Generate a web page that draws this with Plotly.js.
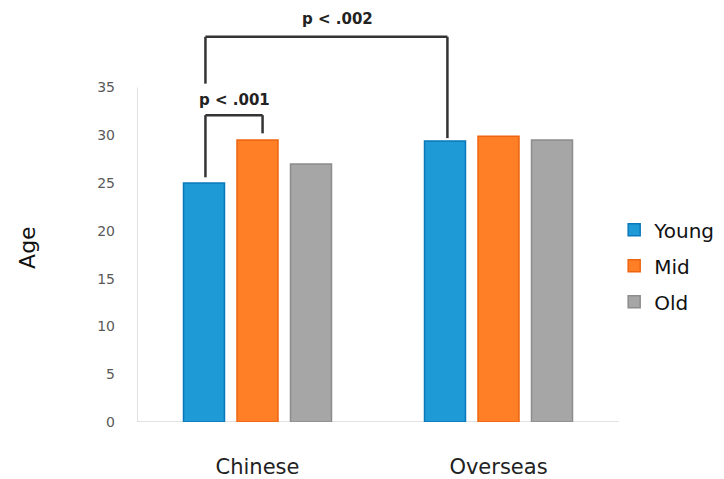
<!DOCTYPE html>
<html>
<head>
<meta charset="utf-8">
<script src="https://cdn.plot.ly/plotly-3.0.1.min.js"></script>
<style>html,body{margin:0;padding:0;background:#fff;}#chart{width:724px;height:479px;}</style>
</head>
<body>
<div id="chart"></div>
<script>
// ---- data ----
const categories = ["Chinese", "Overseas"];
const seriesNames = ["Young", "Mid", "Old"];
const youngValues = [25.0, 29.4];
const midValues = [29.5, 29.9];
const oldValues = [27.0, 29.5];
const yTickValues = [0, 5, 10, 15, 20, 25, 30, 35];
const pLabels = ["p < .001", "p < .002"];

// ---- styles ----
const fills = ["#1E9AD6", "#FF7F27", "#A6A6A6"];
const borders = ["#0A78BC", "#EE6410", "#8C8C8C"];
const allValues = [youngValues, midValues, oldValues];

const traces = allValues.map((vals, i) => ({
  type: "bar",
  name: seriesNames[i],
  x: categories,
  y: vals,
  legendgroup: "g" + i,
  marker: { color: fills[i], line: { color: borders[i], width: 1.5 } },
  hoverinfo: "x+y+name"
}));

const lineStyle = { color: "#333333", width: 2.5 };
// bracket 1: Chinese Young -> Chinese Mid
const b1 = { x0: -0.216, x1: 0.021, base0: 25.6, top: 32.1, base1: 30.2 };
// bracket 2: Chinese Young -> Overseas Young
const b2 = { x0: -0.216, x1: 0.788, base0: 35.4, top: 40.3, base1: 29.7 };
function bracket(b) {
  return [
    { type: "line", xref: "x", yref: "y", x0: b.x0, x1: b.x0, y0: b.base0, y1: b.top, line: lineStyle },
    { type: "line", xref: "x", yref: "y", x0: b.x0, x1: b.x1, y0: b.top, y1: b.top, line: lineStyle },
    { type: "line", xref: "x", yref: "y", x0: b.x1, x1: b.x1, y0: b.top, y1: b.base1, line: lineStyle }
  ];
}
const axisLine = { color: "#D9D9D9", width: 1.5 };
const shapes = [
  { type: "line", xref: "x", yref: "y", x0: -0.5, x1: -0.5, y0: 0, y1: 35, line: axisLine, layer: "below" },
  { type: "line", xref: "x", yref: "y", x0: -0.5, x1: 1.5, y0: 0, y1: 0, line: axisLine, layer: "below" }
].concat(bracket(b1), bracket(b2));

const pFont = { family: "DejaVu Sans, sans-serif", size: 15, color: "#222222", weight: "bold" };
const annotations = [
  { xref: "x", yref: "y", x: (b1.x0 + b1.x1) / 2, y: 33.7, text: pLabels[0], showarrow: false, font: pFont },
  { xref: "x", yref: "y", x: 0.33, y: 42.2, text: pLabels[1], showarrow: false, font: pFont },
  { xref: "paper", yref: "paper", x: -0.227, xanchor: "center", y: 0.425, yanchor: "middle",
    text: "Age", textangle: -90, showarrow: false,
    font: { family: "DejaVu Sans, sans-serif", size: 22, color: "#111111" } }
];

const layout = {
  width: 724, height: 479,
  margin: { l: 137, r: 105, t: 11, b: 57, autoexpand: false },
  paper_bgcolor: "#ffffff", plot_bgcolor: "#ffffff",
  barmode: "group",
  bargap: 0.334,
  bargroupgap: 0.234,
  showlegend: true,
  legend: {
    x: 0.99, xanchor: "left", y: 0.38, yanchor: "middle",
    traceorder: "grouped", tracegroupgap: 7,
    font: { family: "DejaVu Sans, sans-serif", size: 20, color: "#111111" },
    bgcolor: "rgba(0,0,0,0)"
  },
  xaxis: {
    type: "category", range: [-0.5, 1.5], showline: false, showgrid: false, zeroline: false,
    ticks: "", ticklabelstandoff: 30, automargin: false,
    tickfont: { family: "DejaVu Sans, sans-serif", size: 21, color: "#222222" }
  },
  yaxis: {
    range: [0, 43], showline: false, showgrid: false, zeroline: false, automargin: false,
    tickmode: "array", tickvals: yTickValues, ticks: "", ticklabelstandoff: 21,
    tickfont: { family: "DejaVu Sans, sans-serif", size: 14, color: "#595959" }
  },
  shapes: shapes,
  annotations: annotations
};

Plotly.newPlot("chart", traces, layout, { displayModeBar: false, staticPlot: true });
</script>
</body>
</html>
